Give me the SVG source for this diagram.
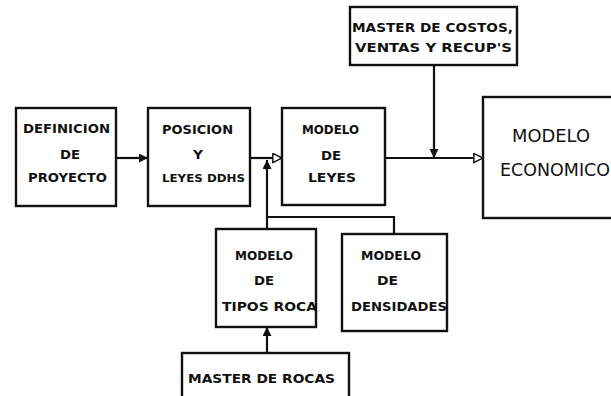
<svg xmlns="http://www.w3.org/2000/svg" width="611" height="396" viewBox="0 0 611 396">
<style>
.box{fill:#fff;stroke:#111;stroke-width:2.4}
.ln{fill:none;stroke:#111;stroke-width:2.2}
.t{font-family:"DejaVu Sans","Liberation Sans",sans-serif;font-weight:bold;font-size:13px;fill:#111}
.s{font-size:10px}
.e{font-family:"DejaVu Sans","Liberation Sans",sans-serif;font-weight:normal;font-size:17px;fill:#111}
</style>
<defs>
<marker id="fa" viewBox="0 0 10 10" refX="10" refY="5" markerWidth="9" markerHeight="9" markerUnits="userSpaceOnUse" orient="auto">
<path d="M0,0 L10,5 L0,10 z" fill="#111"/>
</marker>
<marker id="oa" viewBox="0 0 12 12" refX="11" refY="6" markerWidth="11" markerHeight="11" markerUnits="userSpaceOnUse" orient="auto">
<path d="M1,1 L11,6 L1,11 z" fill="#fff" stroke="#111" stroke-width="1.6"/>
</marker>
</defs>
<rect width="611" height="396" fill="#fff"/>
<g id="connectors">
<line class="ln" x1="116" y1="158" x2="148" y2="158" marker-end="url(#fa)"/>
<line class="ln" x1="250" y1="158" x2="282" y2="158" marker-end="url(#oa)"/>
<line class="ln" x1="385" y1="158" x2="483" y2="158" marker-end="url(#oa)"/>
<line class="ln" x1="434" y1="65" x2="434" y2="158" marker-end="url(#fa)"/>
<line class="ln" x1="267" y1="229" x2="267" y2="160" marker-end="url(#fa)"/>
<polyline class="ln" points="267,217 394,217 394,234"/>
<line class="ln" x1="267" y1="353" x2="267" y2="327" marker-end="url(#fa)"/>
</g>
<g id="definicion">
<rect class="box" x="16" y="108" width="100" height="98"/>
<text class="t" x="23" y="133" textLength="87" lengthAdjust="spacingAndGlyphs">DEFINICION</text>
<text class="t" x="60" y="159" textLength="20" lengthAdjust="spacingAndGlyphs">DE</text>
<text class="t" x="28" y="182" textLength="79" lengthAdjust="spacingAndGlyphs">PROYECTO</text>
</g>
<g id="posicion">
<rect class="box" x="148" y="108" width="102" height="98"/>
<text class="t" x="162" y="134" textLength="71" lengthAdjust="spacingAndGlyphs">POSICION</text>
<text class="t" x="193" y="159" textLength="10" lengthAdjust="spacingAndGlyphs">Y</text>
<text class="t s" x="162" y="182" textLength="83" lengthAdjust="spacingAndGlyphs">LEYES DDHS</text>
</g>
<g id="leyes">
<rect class="box" x="282" y="108" width="103" height="97"/>
<text class="t" x="302" y="134" textLength="57" lengthAdjust="spacingAndGlyphs">MODELO</text>
<text class="t" x="321" y="160" textLength="20" lengthAdjust="spacingAndGlyphs">DE</text>
<text class="t" x="308" y="182" textLength="48" lengthAdjust="spacingAndGlyphs">LEYES</text>
</g>
<g id="economico">
<rect class="box" x="483" y="97" width="135" height="121"/>
<text class="e" x="512" y="142" textLength="78" lengthAdjust="spacingAndGlyphs">MODELO</text>
<text class="e" x="500" y="176" textLength="110" lengthAdjust="spacingAndGlyphs">ECONOMICO</text>
</g>
<g id="costos">
<rect class="box" x="350" y="7" width="167" height="58"/>
<text class="t" x="352" y="32" textLength="161" lengthAdjust="spacingAndGlyphs">MASTER DE COSTOS,</text>
<text class="t" x="355" y="52" textLength="157" lengthAdjust="spacingAndGlyphs">VENTAS Y RECUP'S</text>
</g>
<g id="tipos">
<rect class="box" x="216" y="229" width="100" height="98"/>
<text class="t" x="235" y="260" textLength="58" lengthAdjust="spacingAndGlyphs">MODELO</text>
<text class="t" x="254" y="285" textLength="20" lengthAdjust="spacingAndGlyphs">DE</text>
<text class="t" x="222" y="311" textLength="95" lengthAdjust="spacingAndGlyphs">TIPOS ROCA</text>
</g>
<g id="densidades">
<rect class="box" x="342" y="234" width="105" height="97"/>
<text class="t" x="361" y="260" textLength="60" lengthAdjust="spacingAndGlyphs">MODELO</text>
<text class="t" x="377" y="285" textLength="21" lengthAdjust="spacingAndGlyphs">DE</text>
<text class="t" x="351" y="311" textLength="96" lengthAdjust="spacingAndGlyphs">DENSIDADES</text>
</g>
<g id="rocas">
<rect class="box" x="182" y="353" width="167" height="50"/>
<text class="t" x="188" y="383" textLength="147" lengthAdjust="spacingAndGlyphs">MASTER DE ROCAS</text>
</g>
</svg>
